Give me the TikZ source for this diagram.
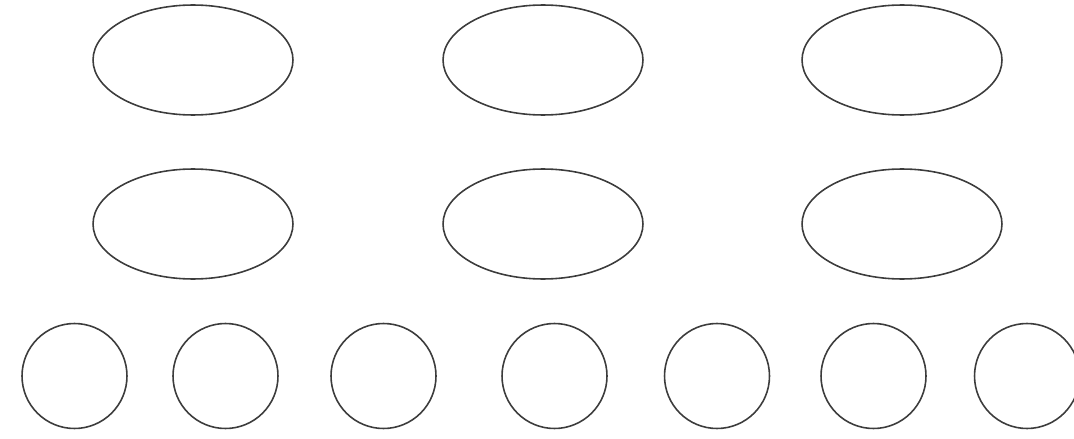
\documentclass[tikz,border=0pt]{standalone}
\usepackage{tikz}
\usetikzlibrary{shapes.geometric}
\definecolor{outline}{RGB}{60,60,60}
\tikzset{
  oval/.style={draw=outline, line width=0.9pt, ellipse, minimum width=4cm, minimum height=2.2cm, inner sep=0pt},
  disc/.style={draw=outline, line width=0.9pt, circle, minimum size=2.1cm, inner sep=0pt}
}
\begin{document}
\begin{tikzpicture}[x=0.02cm, y=-0.02cm]
\useasboundingbox (0,0) rectangle (1074,439);
% -- row 1: three ovals --
\node[oval] (ovalA) at (193,60) {};
\node[oval] (ovalB) at (543,60) {};
\node[oval] (ovalC) at (902,60) {};
% -- row 2: three ovals --
\node[oval] (ovalD) at (193,224) {};
\node[oval] (ovalE) at (543,224) {};
\node[oval] (ovalF) at (902,224) {};
% -- row 3: seven discs --
\node[disc] (discA) at (74.5,376) {};
\node[disc] (discB) at (225.5,376) {};
\node[disc] (discC) at (383.5,376) {};
\node[disc] (discD) at (554.5,376) {};
\node[disc] (discE) at (717,376) {};
\node[disc] (discF) at (873.5,376) {};
\node[disc] (discG) at (1027,376) {};
\end{tikzpicture}
\end{document}
